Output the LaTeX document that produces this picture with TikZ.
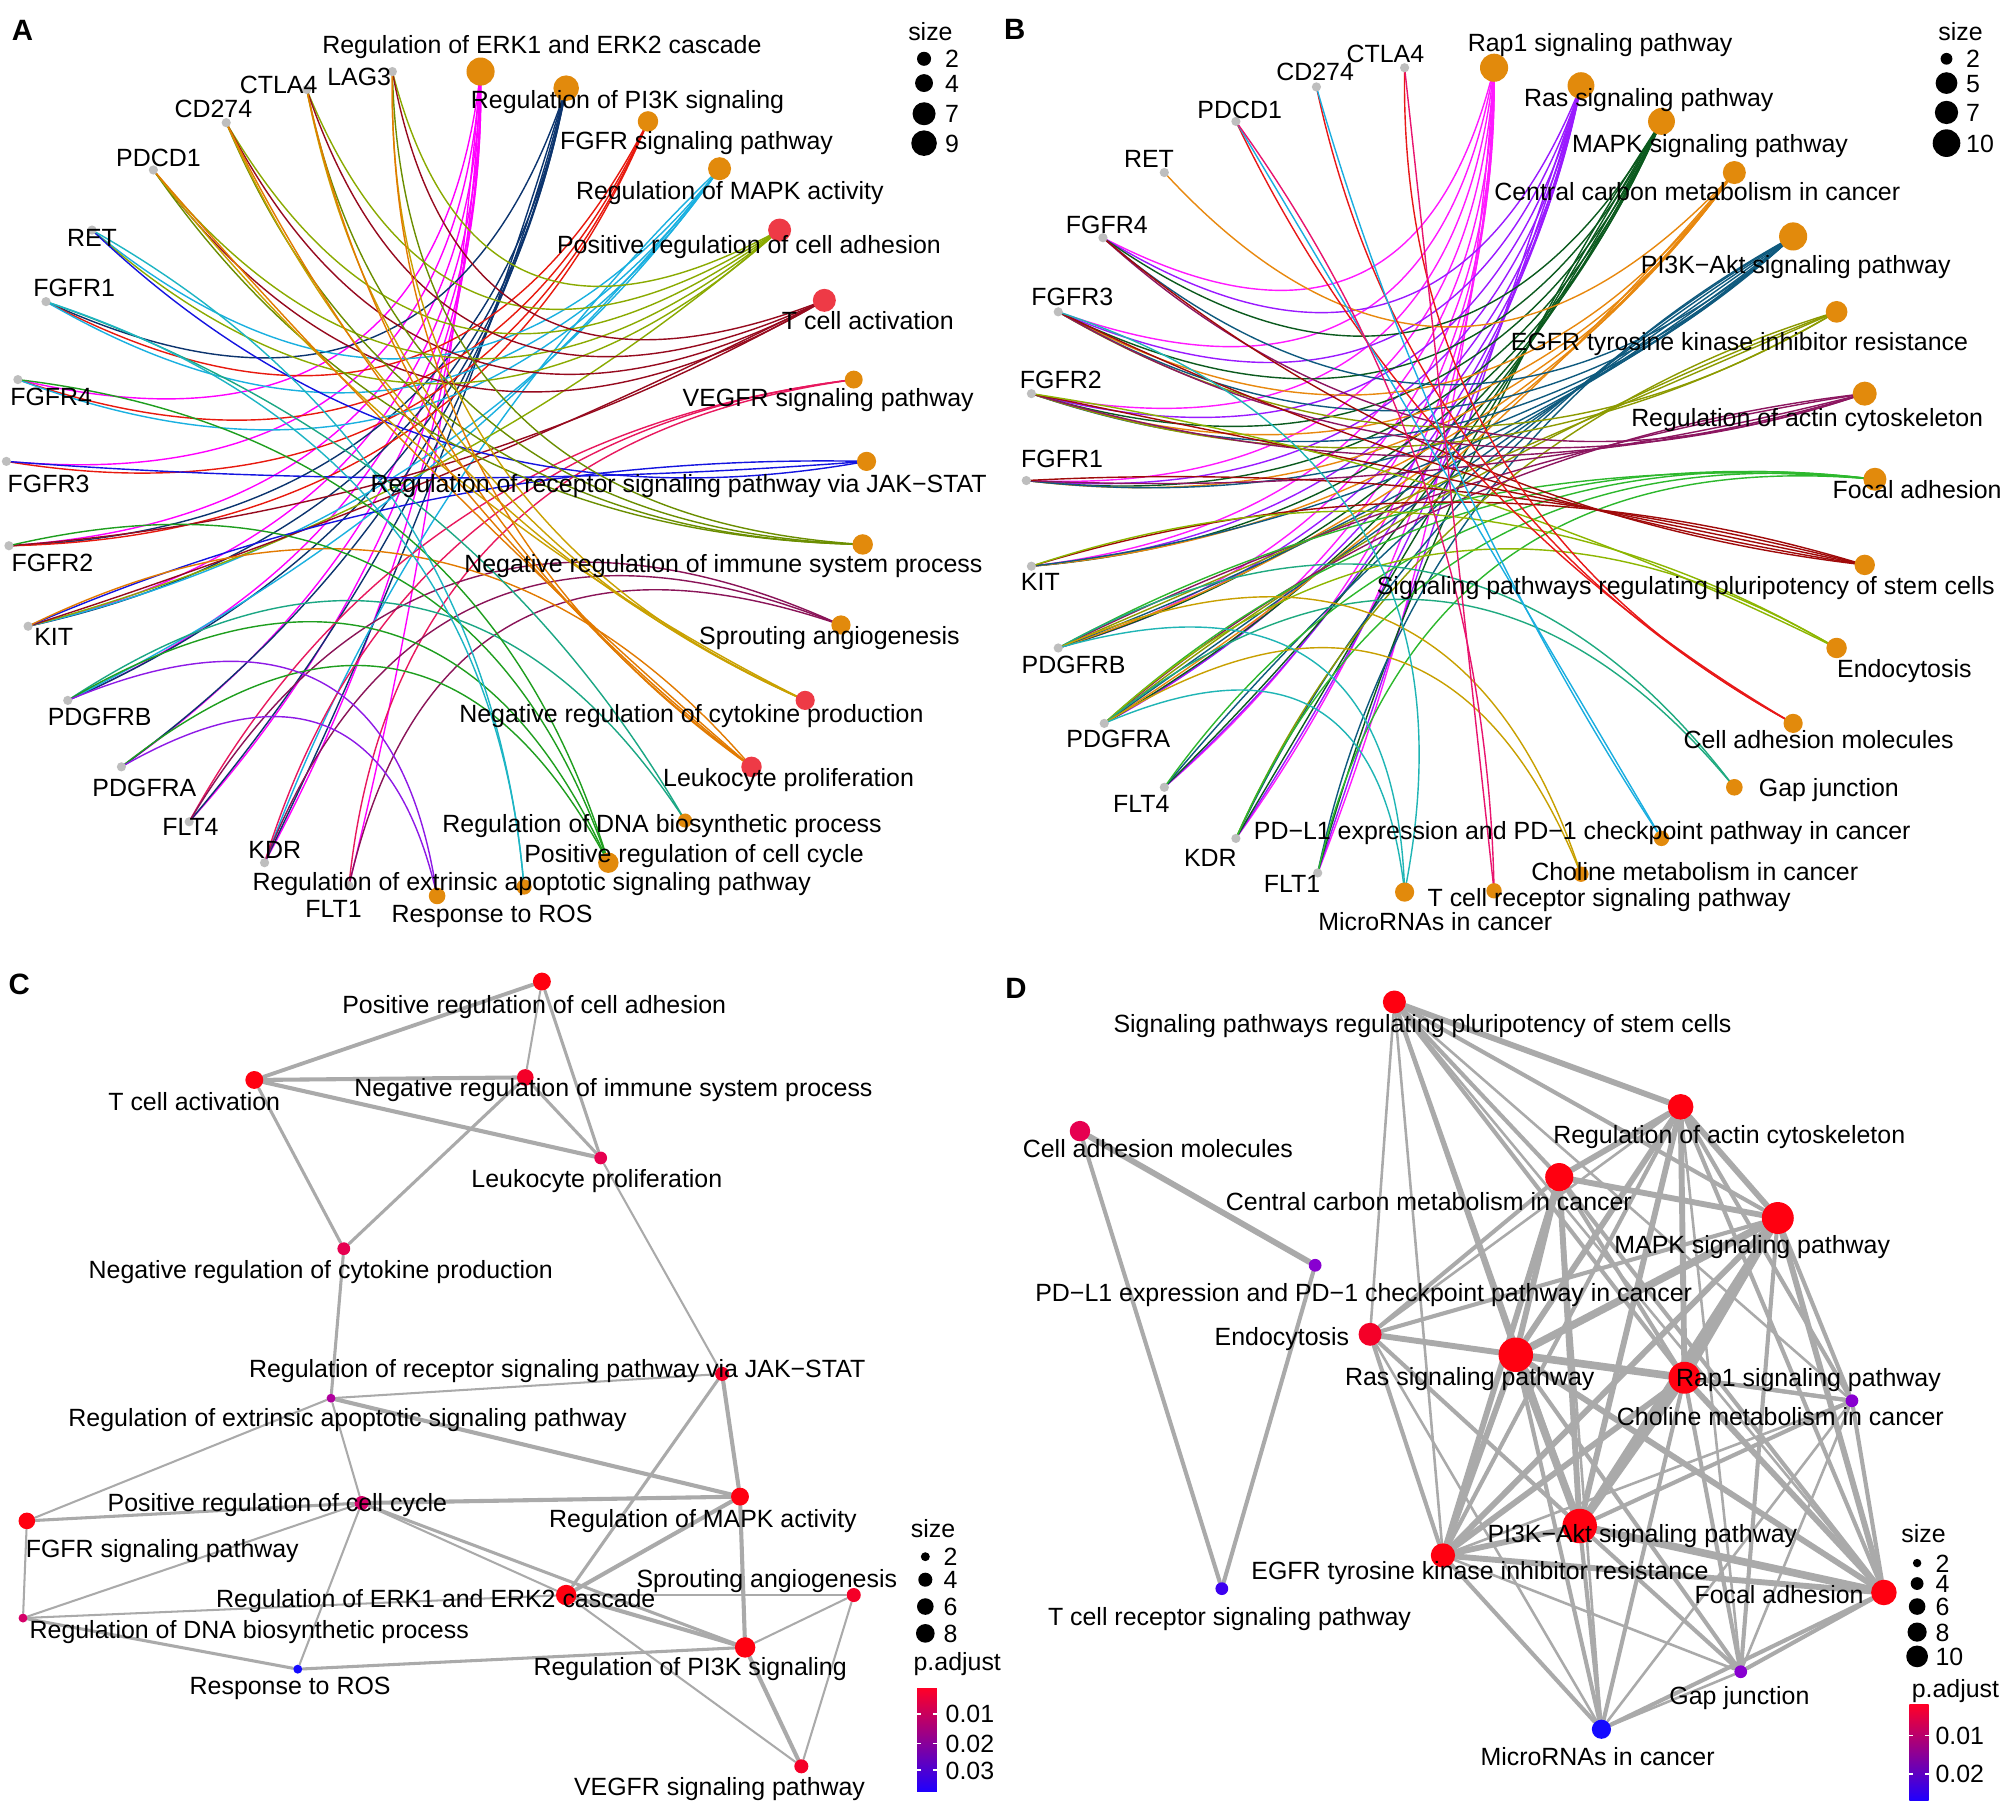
\documentclass[tikz,border=0pt]{standalone}
\usepackage{fontspec}
\setmainfont{Liberation Sans}
\usetikzlibrary{backgrounds}
\pgfdeclarelayer{bottom}
\pgfsetlayers{bottom,background,main}

\definecolor{gnodec}{RGB}{190,190,190}
\definecolor{onodec}{RGB}{226,138,12}
\definecolor{rnodec}{RGB}{238,58,70}
\definecolor{gedgec}{RGB}{170,170,170}
% panel A edge colours
\definecolor{aERKc}{RGB}{255,0,255}
\definecolor{aPIc}{RGB}{12,52,110}
\definecolor{aFGc}{RGB}{232,25,14}
\definecolor{aMAc}{RGB}{26,176,224}
\definecolor{aADc}{RGB}{138,170,0}
\definecolor{aTCc}{RGB}{150,10,30}
\definecolor{aVEc}{RGB}{232,24,94}
\definecolor{aJAc}{RGB}{20,20,224}
\definecolor{aNIc}{RGB}{107,142,0}
\definecolor{aSPc}{RGB}{138,20,88}
\definecolor{aCYc}{RGB}{201,161,0}
\definecolor{aLEc}{RGB}{226,122,0}
\definecolor{aDNc}{RGB}{27,167,132}
\definecolor{aCCc}{RGB}{30,158,30}
\definecolor{aAPc}{RGB}{29,181,196}
\definecolor{aROc}{RGB}{142,26,230}
% panel B edge colours
\definecolor{bRapc}{RGB}{255,26,255}
\definecolor{bRasc}{RGB}{154,26,255}
\definecolor{bMAc}{RGB}{11,90,30}
\definecolor{bCCc}{RGB}{232,136,14}
\definecolor{bPIc}{RGB}{15,90,126}
\definecolor{bEGc}{RGB}{140,154,0}
\definecolor{bACc}{RGB}{140,22,96}
\definecolor{bFOc}{RGB}{45,184,45}
\definecolor{bPLc}{RGB}{160,10,10}
\definecolor{bENc}{RGB}{141,182,0}
\definecolor{bCAc}{RGB}{232,24,24}
\definecolor{bGAc}{RGB}{31,170,128}
\definecolor{bPDc}{RGB}{26,174,224}
\definecolor{bCHc}{RGB}{200,160,0}
\definecolor{bTCc}{RGB}{232,20,110}
\definecolor{bMIc}{RGB}{31,181,181}
% p.adjust colours
\definecolor{pr0}{RGB}{255,0,16}
\definecolor{pr1}{RGB}{244,0,40}
\definecolor{pr2}{RGB}{230,0,80}
\definecolor{pr3}{RGB}{212,0,104}
\definecolor{pr4}{RGB}{176,0,158}
\definecolor{pr5}{RGB}{136,0,208}
\definecolor{pr6}{RGB}{60,0,240}
\definecolor{pr7}{RGB}{20,10,255}
\definecolor{bartop}{RGB}{255,0,40}
\definecolor{barmid}{RGB}{190,0,150}
\definecolor{barbot}{RGB}{30,0,255}

\makeatletter
\newcommand\cedge[4]{%
  \pgfpointanchor{#3}{center}\edef\cea{\strip@pt\pgf@x}\edef\ceb{\strip@pt\pgf@y}%
  \pgfpointanchor{#4}{center}\edef\cec{\strip@pt\pgf@x}\edef\ced{\strip@pt\pgf@y}%
  \pgfpointanchor{#2}{center}\edef\cee{\strip@pt\pgf@x}\edef\cef{\strip@pt\pgf@y}%
  \pgfmathsetmacro\ceg{veclen(\cec-\cea,\ced-\ceb)/221.5}%
  \pgfmathsetmacro\ceqx{(\cea+\cec)/2+\ceg*(\cee-(\cea+\cec)/2)}%
  \pgfmathsetmacro\ceqy{(\ceb+\ced)/2+\ceg*(\cef-(\ceb+\ced)/2)}%
  \pgfmathsetmacro\ceux{(\cea+2*\ceqx)/3}%
  \pgfmathsetmacro\ceuy{(\ceb+2*\ceqy)/3}%
  \pgfmathsetmacro\cevx{(\cec+2*\ceqx)/3}%
  \pgfmathsetmacro\cevy{(\ced+2*\ceqy)/3}%
  \draw[cnedge,#1] (#3.center) .. controls (\ceux pt,\ceuy pt) and (\cevx pt,\cevy pt) .. (#4.center);%
}
\makeatother

\tikzset{
  lab/.style={font=\fontsize{9.75}{11}\selectfont, anchor=base, yshift=-3.5pt, inner sep=0pt},
  labw/.style={lab, anchor=base west},
  plab/.style={font=\fontsize{11.5}{13}\selectfont\bfseries, anchor=base, yshift=-4.1pt, inner sep=0pt},
  gnode/.style={circle, fill=gnodec, inner sep=0pt, minimum size=3.6pt},
  onode/.style={circle, fill=onodec, inner sep=0pt},
  rnode/.style={circle, fill=rnodec, inner sep=0pt},
  enode/.style={circle, inner sep=0pt},
  cnedge/.style={line width=0.55pt},
  ge/.style={draw=gedgec, line cap=round},
}

\begin{document}
\begin{tikzpicture}[x=0.5pt,y=-0.5pt]
\useasboundingbox (0,0) rectangle (1568,1413);
\begin{pgfonlayer}{bottom}
\fill[white] (0,0) rectangle (1568,1413);
\end{pgfonlayer}

%================ PANEL A =================
\node[plab] (pA) at (17.5,23.5) {A};
\coordinate (ctrA) at (342,378);
\node[gnode] (aLAG3) at (307,56) {};
\node[gnode] (aCTLA4) at (240,70) {};
\node[gnode] (aCD274) at (177,96) {};
\node[gnode] (aPDCD1) at (120,133) {};
\node[gnode] (aRET) at (72,180) {};
\node[gnode] (aFGFR1) at (36,236) {};
\node[gnode] (aFGFR4) at (14,297) {};
\node[gnode] (aFGFR3) at (5,361) {};
\node[gnode] (aFGFR2) at (7,427) {};
\node[gnode] (aKIT) at (22,490) {};
\node[gnode] (aPDGFRB) at (53,548) {};
\node[gnode] (aPDGFRA) at (95,600) {};
\node[gnode] (aFLT4) at (148,643) {};
\node[gnode] (aKDR) at (207,675) {};
\node[gnode] (aFLT1) at (273,693) {};

\node[onode, minimum size=11pt] (aERK) at (376,56) {};
\node[onode, minimum size=10pt] (aPI) at (443,69) {};
\node[onode, minimum size=8pt] (aFG) at (507,95) {};
\node[onode, minimum size=9pt] (aMA) at (563,132) {};
\node[rnode, minimum size=9pt] (aAD) at (610,180) {};
\node[rnode, minimum size=9pt] (aTC) at (645,235) {};
\node[onode, minimum size=7pt] (aVE) at (668,297) {};
\node[onode, minimum size=7.5pt] (aJA) at (678,361) {};
\node[onode, minimum size=8pt] (aNI) at (675,426) {};
\node[onode, minimum size=7.5pt] (aSP) at (658,489) {};
\node[rnode, minimum size=7.5pt] (aCY) at (630,548) {};
\node[rnode, minimum size=8pt] (aLE) at (588,600) {};
\node[onode, minimum size=5.5pt] (aDN) at (536,642) {};
\node[onode, minimum size=8pt] (aCC) at (476,675) {};
\node[onode, minimum size=6pt] (aAP) at (410,694) {};
\node[onode, minimum size=6.5pt] (aRO) at (342,701) {};

\begin{pgfonlayer}{background}
\foreach \g in {FGFR4,FGFR3,FGFR2,KIT,PDGFRB,PDGFRA,FLT4,KDR,FLT1} {\cedge{aERKc}{ctrA}{a\g}{aERK}}
\foreach \g in {FGFR1,FGFR2,KIT,PDGFRA,PDGFRB,FLT4,KDR} {\cedge{aPIc}{ctrA}{a\g}{aPI}}
\foreach \g in {FGFR1,FGFR2,FGFR3,FGFR4} {\cedge{aFGc}{ctrA}{a\g}{aFG}}
\foreach \g in {RET,FGFR1,FGFR4,KIT,PDGFRB,KDR} {\cedge{aMAc}{ctrA}{a\g}{aMA}}
\foreach \g in {PDCD1,CD274,CTLA4,LAG3,RET,KIT} {\cedge{aADc}{ctrA}{a\g}{aAD}}
\foreach \g in {PDCD1,CD274,CTLA4,LAG3,KIT,FGFR2} {\cedge{aTCc}{ctrA}{a\g}{aTC}}
\foreach \g in {FLT1,KDR,FLT4} {\cedge{aVEc}{ctrA}{a\g}{aVE}}
\foreach \g in {RET,FGFR3,KIT} {\cedge{aJAc}{ctrA}{a\g}{aJA}}
\foreach \g in {PDCD1,CD274,CTLA4,LAG3} {\cedge{aNIc}{ctrA}{a\g}{aNI}}
\foreach \g in {FLT4,KDR,FLT1} {\cedge{aSPc}{ctrA}{a\g}{aSP}}
\foreach \g in {PDCD1,CD274,CTLA4,LAG3} {\cedge{aCYc}{ctrA}{a\g}{aCY}}
\foreach \g in {PDCD1,CD274,CTLA4,LAG3,KIT} {\cedge{aLEc}{ctrA}{a\g}{aLE}}
\foreach \g in {FGFR1,PDGFRB} {\cedge{aDNc}{ctrA}{a\g}{aDN}}
\foreach \g in {FGFR4,FGFR2,PDGFRB,PDGFRA} {\cedge{aCCc}{ctrA}{a\g}{aCC}}
\foreach \g in {RET,FGFR1} {\cedge{aAPc}{ctrA}{a\g}{aAP}}
\foreach \g in {PDGFRB,PDGFRA} {\cedge{aROc}{ctrA}{a\g}{aRO}}
\end{pgfonlayer}

\node[lab] (laLAG3) at (281,60) {LAG3};
\node[lab] (laCTLA4) at (218,66) {CTLA4};
\node[lab] (laCD274) at (167,85) {CD274};
\node[lab] (laPDCD1) at (124,123) {PDCD1};
\node[lab] (laRET) at (72,186) {RET};
\node[lab] (laFGFR1) at (58,225) {FGFR1};
\node[lab] (laFGFR4) at (40,310) {FGFR4};
\node[lab] (laFGFR3) at (38,378) {FGFR3};
\node[lab] (laFGFR2) at (41,440) {FGFR2};
\node[lab] (laKIT) at (42,498) {KIT};
\node[lab] (laPDGFRB) at (78,561) {PDGFRB};
\node[lab] (laPDGFRA) at (113,616) {PDGFRA};
\node[lab] (laFLT4) at (149,647) {FLT4};
\node[lab] (laKDR) at (215,665) {KDR};
\node[lab] (laFLT1) at (261,711) {FLT1};

\node[lab] (laERK) at (424,35) {Regulation of ERK1 and ERK2 cascade};
\node[lab] (laPI) at (491,78) {Regulation of PI3K signaling};
\node[lab] (laFG) at (545,110) {FGFR signaling pathway};
\node[lab] (laMA) at (571,149) {Regulation of MAPK activity};
\node[lab] (laAD) at (586,191) {Positive regulation of cell adhesion};
\node[lab] (laTC) at (679,251) {T cell activation};
\node[lab] (laVE) at (648,311) {VEGFR signaling pathway};
\node[lab] (laJA) at (531,378) {Regulation of receptor signaling pathway via JAK−STAT};
\node[lab] (laNI) at (566,441) {Negative regulation of immune system process};
\node[lab] (laSP) at (649,497) {Sprouting angiogenesis};
\node[lab] (laCY) at (541,558) {Negative regulation of cytokine production};
\node[lab] (laLE) at (617,608) {Leukocyte proliferation};
\node[lab] (laDN) at (518,644) {Regulation of DNA biosynthetic process};
\node[lab] (laCC) at (543,668) {Positive regulation of cell cycle};
\node[lab] (laAP) at (416,690) {Regulation of extrinsic apoptotic signaling pathway};
\node[lab] (laRO) at (385,715) {Response to ROS};

% legend A
\node[lab] (lgA) at (728,25) {size};
\fill (723,46) circle[radius=5.5];
\fill (723,65) circle[radius=7];
\fill (723,89) circle[radius=9];
\fill (723,112) circle[radius=10];
\node[labw] (lgA2) at (739,46) {2};
\node[labw] (lgA4) at (739,65) {4};
\node[labw] (lgA7) at (739,89) {7};
\node[labw] (lgA9) at (739,112) {9};

%================ PANEL B =================
\node[plab] (pB) at (794,23) {B};
\coordinate (ctrB) at (1134,375);
\node[gnode] (bCTLA4) at (1099,53) {};
\node[gnode] (bCD274) at (1030,68) {};
\node[gnode] (bPDCD1) at (967,95) {};
\node[gnode] (bRET) at (911,135) {};
\node[gnode] (bFGFR4) at (863,186) {};
\node[gnode] (bFGFR3) at (828,244) {};
\node[gnode] (bFGFR2) at (807,308) {};
\node[gnode] (bFGFR1) at (803,376) {};
\node[gnode] (bKIT) at (807,443) {};
\node[gnode] (bPDGFRB) at (828,507) {};
\node[gnode] (bPDGFRA) at (864,566) {};
\node[gnode] (bFLT4) at (911,616) {};
\node[gnode] (bKDR) at (967,656) {};
\node[gnode] (bFLT1) at (1031,683) {};

\node[onode, minimum size=11pt] (bRap) at (1169,53) {};
\node[onode, minimum size=10.5pt] (bRas) at (1237,67) {};
\node[onode, minimum size=10.5pt] (bMA) at (1300,95) {};
\node[onode, minimum size=9pt] (bCC) at (1357,135) {};
\node[onode, minimum size=11pt] (bPI) at (1403,185) {};
\node[onode, minimum size=8.5pt] (bEG) at (1437,244) {};
\node[onode, minimum size=9.4pt] (bAC) at (1459,308) {};
\node[onode, minimum size=9pt] (bFO) at (1467,375) {};
\node[onode, minimum size=8pt] (bPL) at (1459,442) {};
\node[onode, minimum size=8pt] (bEN) at (1437,507) {};
\node[onode, minimum size=7.5pt] (bCA) at (1403,566) {};
\node[onode, minimum size=6.5pt] (bGA) at (1357,616) {};
\node[onode, minimum size=6pt] (bPD) at (1300,656) {};
\node[onode, minimum size=6pt] (bCH) at (1237,684) {};
\node[onode, minimum size=6pt] (bTC) at (1169,697) {};
\node[onode, minimum size=7.5pt] (bMI) at (1099,698) {};

\begin{pgfonlayer}{background}
\foreach \g in {FGFR4,FGFR3,FGFR2,FGFR1,KIT,PDGFRB,PDGFRA,FLT4,KDR,FLT1} {\cedge{bRapc}{ctrB}{b\g}{bRap}}
\foreach \g in {FGFR4,FGFR3,FGFR2,FGFR1,KIT,PDGFRB,PDGFRA,FLT4,KDR,FLT1} {\cedge{bRasc}{ctrB}{b\g}{bRas}}
\foreach \g in {FGFR4,FGFR3,FGFR2,FGFR1,KIT,PDGFRB,PDGFRA,FLT4,KDR,FLT1} {\cedge{bMAc}{ctrB}{b\g}{bMA}}
\foreach \g in {RET,FGFR3,FGFR2,FGFR1,KIT,PDGFRB,PDGFRA} {\cedge{bCCc}{ctrB}{b\g}{bCC}}
\foreach \g in {FGFR4,FGFR3,FGFR2,FGFR1,KIT,PDGFRB,PDGFRA,FLT4,KDR,FLT1} {\cedge{bPIc}{ctrB}{b\g}{bPI}}
\foreach \g in {FGFR3,FGFR2,KDR,PDGFRA,PDGFRB} {\cedge{bEGc}{ctrB}{b\g}{bEG}}
\foreach \g in {FGFR4,FGFR3,FGFR2,FGFR1,PDGFRA,PDGFRB} {\cedge{bACc}{ctrB}{b\g}{bAC}}
\foreach \g in {PDGFRA,PDGFRB,KDR,FLT1,FLT4} {\cedge{bFOc}{ctrB}{b\g}{bFO}}
\foreach \g in {FGFR4,FGFR3,FGFR2,FGFR1,KIT} {\cedge{bPLc}{ctrB}{b\g}{bPL}}
\foreach \g in {FGFR2,KIT,PDGFRA} {\cedge{bENc}{ctrB}{b\g}{bEN}}
\foreach \g in {PDCD1,CD274,CTLA4} {\cedge{bCAc}{ctrB}{b\g}{bCA}}
\foreach \g in {PDGFRA,PDGFRB} {\cedge{bGAc}{ctrB}{b\g}{bGA}}
\foreach \g in {CD274,PDCD1} {\cedge{bPDc}{ctrB}{b\g}{bPD}}
\foreach \g in {PDGFRA,PDGFRB} {\cedge{bCHc}{ctrB}{b\g}{bCH}}
\foreach \g in {PDCD1,CTLA4} {\cedge{bTCc}{ctrB}{b\g}{bTC}}
\foreach \g in {FGFR3,PDGFRA,PDGFRB} {\cedge{bMIc}{ctrB}{b\g}{bMI}}
\end{pgfonlayer}

\node[lab] (lbCTLA4) at (1084,42) {CTLA4};
\node[lab] (lbCD274) at (1029,56) {CD274};
\node[lab] (lbPDCD1) at (970,86) {PDCD1};
\node[lab] (lbRET) at (899,124) {RET};
\node[lab] (lbFGFR4) at (866,176) {FGFR4};
\node[lab] (lbFGFR3) at (839,232) {FGFR3};
\node[lab] (lbFGFR2) at (830,297) {FGFR2};
\node[lab] (lbFGFR1) at (831,359) {FGFR1};
\node[lab] (lbKIT) at (814,455) {KIT};
\node[lab] (lbPDGFRB) at (840,520) {PDGFRB};
\node[lab] (lbPDGFRA) at (875,578) {PDGFRA};
\node[lab] (lbFLT4) at (893,629) {FLT4};
\node[lab] (lbKDR) at (947,671) {KDR};
\node[lab] (lbFLT1) at (1011,691) {FLT1};

\node[lab] (lbRap) at (1252,33) {Rap1 signaling pathway};
\node[lab] (lbRas) at (1290,76) {Ras signaling pathway};
\node[lab] (lbMA) at (1338,112) {MAPK signaling pathway};
\node[lab] (lbCC) at (1328,150) {Central carbon metabolism in cancer};
\node[lab] (lbPI) at (1405,207) {PI3K−Akt signaling pathway};
\node[lab] (lbEG) at (1361,267) {EGFR tyrosine kinase inhibitor resistance};
\node[lab] (lbAC) at (1414,327) {Regulation of actin cytoskeleton};
\node[lab] (lbFO) at (1500,383) {Focal adhesion};
\node[lab] (lbPL) at (1319,458) {Signaling pathways regulating pluripotency of stem cells};
\node[lab] (lbEN) at (1490,523) {Endocytosis};
\node[lab] (lbCA) at (1423,579) {Cell adhesion molecules};
\node[lab] (lbGA) at (1431,616) {Gap junction};
\node[lab] (lbPD) at (1238,650) {PD−L1 expression and PD−1 checkpoint pathway in cancer};
\node[lab] (lbCH) at (1326,682) {Choline metabolism in cancer};
\node[lab] (lbTC) at (1259,702) {T cell receptor signaling pathway};
\node[lab] (lbMI) at (1123,721) {MicroRNAs in cancer};

% legend B
\node[lab] (lgB) at (1534,25) {size};
\fill (1523,46) circle[radius=4.6];
\fill (1523,65) circle[radius=8.5];
\fill (1523,88) circle[radius=9.1];
\fill (1523,112) circle[radius=10.8];
\node[labw] (lgB2) at (1538,46) {2};
\node[labw] (lgB5) at (1538,65) {5};
\node[labw] (lgB7) at (1538,88) {7};
\node[labw] (lgB10) at (1538,112) {10};

%================ PANEL C =================
\node[plab] (pC) at (15,770) {C};
\node[enode, fill=pr0, minimum size=7pt] (cPA) at (424,768) {};
\node[enode, fill=pr0, minimum size=7pt] (cTA) at (199,845) {};
\node[enode, fill=pr1, minimum size=6.5pt] (cNI) at (411,843) {};
\node[enode, fill=pr2, minimum size=5pt] (cLE) at (470,906) {};
\node[enode, fill=pr2, minimum size=5pt] (cNC) at (269,977) {};
\node[enode, fill=pr1, minimum size=5.5pt] (cJA) at (565,1075) {};
\node[enode, fill=pr4, minimum size=3.5pt] (cEA) at (259,1094) {};
\node[enode, fill=pr3, minimum size=5.5pt] (cCC) at (283,1176) {};
\node[enode, fill=pr0, minimum size=7pt] (cMA) at (579,1171) {};
\node[enode, fill=pr0, minimum size=6.5pt] (cFG) at (21,1190) {};
\node[enode, fill=pr1, minimum size=5.5pt] (cSP) at (668,1248) {};
\node[enode, fill=pr0, minimum size=8pt] (cER) at (443,1248) {};
\node[enode, fill=pr3, minimum size=3.5pt] (cDN) at (18,1266) {};
\node[enode, fill=pr7, minimum size=3.5pt] (cRO) at (233,1306) {};
\node[enode, fill=pr0, minimum size=8pt] (cPI) at (583,1289) {};
\node[enode, fill=pr1, minimum size=5.5pt] (cVE) at (627,1382) {};

\begin{pgfonlayer}{background}
\foreach \u/\v/\w in {cPA/cTA/1.5, cPA/cNI/0.8, cPA/cLE/1.2, cTA/cNI/1.6, cTA/cLE/1.6, cTA/cNC/1.2,
  cNI/cNC/1.2, cNI/cLE/1.2, cLE/cJA/0.8, cNC/cEA/1.2, cEA/cJA/0.8, cEA/cMA/1.6, cEA/cFG/0.8,
  cEA/cCC/0.8, cJA/cMA/1.6, cJA/cER/1.2, cCC/cFG/1.2, cCC/cMA/1.6, cCC/cER/0.8, cCC/cPI/1.2,
  cCC/cDN/0.8, cCC/cRO/0.8, cFG/cDN/0.8, cDN/cRO/1.2, cDN/cER/0.8, cRO/cPI/1.2,
  cMA/cER/1.6, cMA/cPI/1.6, cER/cPI/1.6, cER/cSP/0.8, cER/cVE/0.8, cPI/cSP/0.8, cPI/cVE/1.6, cSP/cVE/0.8}
  {\draw[ge, line width=\w pt] (\u) -- (\v);}
\end{pgfonlayer}

\node[lab] (lcPA) at (418,786) {Positive regulation of cell adhesion};
\node[lab] (lcTA) at (152,862) {T cell activation};
\node[lab] (lcNI) at (480,851) {Negative regulation of immune system process};
\node[lab] (lcLE) at (467,922) {Leukocyte proliferation};
\node[lab] (lcNC) at (251,993) {Negative regulation of cytokine production};
\node[lab] (lcJA) at (436,1071) {Regulation of receptor signaling pathway via JAK−STAT};
\node[lab] (lcEA) at (272,1109) {Regulation of extrinsic apoptotic signaling pathway};
\node[lab] (lcCC) at (217,1176) {Positive regulation of cell cycle};
\node[lab] (lcMA) at (550,1188) {Regulation of MAPK activity};
\node[lab] (lcFG) at (127,1212) {FGFR signaling pathway};
\node[lab] (lcSP) at (600,1235) {Sprouting angiogenesis};
\node[lab] (lcER) at (341,1251) {Regulation of ERK1 and ERK2 cascade};
\node[lab] (lcDN) at (195,1275) {Regulation of DNA biosynthetic process};
\node[lab] (lcRO) at (227,1319) {Response to ROS};
\node[lab] (lcPI) at (540,1304) {Regulation of PI3K signaling};
\node[lab] (lcVE) at (563,1398) {VEGFR signaling pathway};

% legend C
\node[lab] (lgC) at (730,1196) {size};
\fill (724,1218) circle[radius=3.5];
\fill (724,1236) circle[radius=5.5];
\fill (724,1257) circle[radius=6.5];
\fill (724,1278) circle[radius=7.3];
\node[labw] (lgC2) at (738,1218) {2};
\node[labw] (lgC4) at (738,1236) {4};
\node[labw] (lgC6) at (738,1257) {6};
\node[labw] (lgC8) at (738,1278) {8};
\node[lab] (lgCp) at (749,1300) {p.adjust};
\shade[top color=bartop, middle color=barmid, bottom color=barbot] (717.5,1321) rectangle (733,1402);
\foreach \t in {1341,1364,1385} {\draw[white, line width=0.5pt] (717.5,\t) -- (720.5,\t) (730,\t) -- (733,\t);}
\node[labw] (lgC01) at (739.5,1341) {0.01};
\node[labw] (lgC02) at (739.5,1364) {0.02};
\node[labw] (lgC03) at (739.5,1385) {0.03};

%================ PANEL D =================
\node[plab] (pD) at (795,773) {D};
\node[enode, fill=pr0, minimum size=9pt] (dPL) at (1091,784) {};
\node[enode, fill=pr0, minimum size=10pt] (dAC) at (1315,866) {};
\node[enode, fill=pr2, minimum size=8pt] (dCA) at (845,885) {};
\node[enode, fill=pr0, minimum size=11pt] (dCC) at (1220,921) {};
\node[enode, fill=pr0, minimum size=12.5pt] (dMA) at (1391,953) {};
\node[enode, fill=pr5, minimum size=5pt] (dPD) at (1029,990) {};
\node[enode, fill=pr1, minimum size=9pt] (dEN) at (1072,1044) {};
\node[enode, fill=pr0, minimum size=13.5pt] (dRA) at (1186,1060) {};
\node[enode, fill=pr0, minimum size=12.5pt] (dR1) at (1318,1078) {};
\node[enode, fill=pr5, minimum size=5pt] (dCH) at (1449,1096) {};
\node[enode, fill=pr0, minimum size=13.5pt] (dPI) at (1236,1194) {};
\node[enode, fill=pr0, minimum size=9.5pt] (dEG) at (1129,1217) {};
\node[enode, fill=pr6, minimum size=5pt] (dTC) at (956,1243) {};
\node[enode, fill=pr0, minimum size=10pt] (dFO) at (1474,1246) {};
\node[enode, fill=pr5, minimum size=5pt] (dGA) at (1362,1308) {};
\node[enode, fill=pr7, minimum size=7.5pt] (dMI) at (1253,1353) {};

\begin{pgfonlayer}{background}
\foreach \u/\v/\w in {dCA/dPD/2.3, dCA/dTC/1.6, dPD/dTC/1.6,
  dPL/dAC/2.3, dPL/dCC/1.6, dPL/dMA/1.6, dPL/dRA/1.6, dPL/dR1/1.6, dPL/dPI/1.6, dPL/dEG/1.0,
  dPL/dEN/1.0, dPL/dFO/1.0, dPL/dCH/1.0,
  dAC/dCC/2.3, dAC/dMA/2.3, dAC/dRA/2.3, dAC/dR1/2.3, dAC/dPI/2.3, dAC/dEG/1.6, dAC/dFO/1.6,
  dAC/dCH/1.6, dAC/dGA/1.0, dAC/dEN/1.0,
  dCC/dMA/2.3, dCC/dRA/2.3, dCC/dR1/1.6, dCC/dPI/2.3, dCC/dEG/2.3, dCC/dEN/1.6, dCC/dFO/1.6, dCC/dMI/1.0,
  dMA/dRA/3.0, dMA/dR1/3.0, dMA/dPI/3.0, dMA/dEG/2.3, dMA/dFO/2.3, dMA/dCH/1.6, dMA/dGA/1.6, dMA/dEN/1.6,
  dEN/dRA/2.3, dEN/dR1/1.6, dEN/dPI/1.6, dEN/dEG/1.6, dEN/dMI/1.0,
  dRA/dR1/3.0, dRA/dPI/3.0, dRA/dEG/2.3, dRA/dFO/2.3, dRA/dCH/1.6, dRA/dGA/1.6, dRA/dMI/1.6,
  dR1/dPI/3.0, dR1/dEG/2.3, dR1/dFO/2.3, dR1/dCH/1.6, dR1/dGA/1.6, dR1/dMI/1.6,
  dCH/dPI/1.6, dCH/dFO/1.6, dCH/dGA/1.0, dCH/dEG/1.0, dCH/dMI/1.0,
  dPI/dEG/2.3, dPI/dFO/3.0, dPI/dGA/1.6, dPI/dMI/1.6,
  dEG/dFO/2.3, dEG/dMI/1.6, dEG/dGA/1.0, dFO/dGA/1.6, dFO/dMI/1.6, dGA/dMI/1.0}
  {\draw[ge, line width=\w pt] (\u) -- (\v);}
\end{pgfonlayer}

\node[lab] (ldPL) at (1113,801) {Signaling pathways regulating pluripotency of stem cells};
\node[lab] (ldAC) at (1353,888) {Regulation of actin cytoskeleton};
\node[lab] (ldCA) at (906,899) {Cell adhesion molecules};
\node[lab] (ldCC) at (1118,940) {Central carbon metabolism in cancer};
\node[lab] (ldMA) at (1371,974) {MAPK signaling pathway};
\node[lab] (ldPD) at (1067,1011) {PD−L1 expression and PD−1 checkpoint pathway in cancer};
\node[lab] (ldEN) at (1003,1046) {Endocytosis};
\node[lab] (ldRA) at (1150,1077) {Ras signaling pathway};
\node[lab] (ldR1) at (1415,1078) {Rap1 signaling pathway};
\node[lab] (ldCH) at (1393,1108) {Choline metabolism in cancer};
\node[lab] (ldPI) at (1285,1200) {PI3K−Akt signaling pathway};
\node[lab] (ldEG) at (1158,1229) {EGFR tyrosine kinase inhibitor resistance};
\node[lab] (ldTC) at (962,1265) {T cell receptor signaling pathway};
\node[lab] (ldFO) at (1392,1248) {Focal adhesion};
\node[lab] (ldGA) at (1361,1327) {Gap junction};
\node[lab] (ldMI) at (1250,1374) {MicroRNAs in cancer};

% legend D
\node[lab] (lgD) at (1505,1200) {size};
\fill (1500,1223) circle[radius=3.3];
\fill (1500,1239) circle[radius=5];
\fill (1500,1257) circle[radius=6.5];
\fill (1500,1277) circle[radius=7.5];
\fill (1500,1296) circle[radius=8.5];
\node[labw] (lgD2) at (1514,1223) {2};
\node[labw] (lgD4) at (1514,1239) {4};
\node[labw] (lgD6) at (1514,1257) {6};
\node[labw] (lgD8) at (1514,1277) {8};
\node[labw] (lgD10) at (1514,1296) {10};
\node[lab] (lgDp) at (1530,1321) {p.adjust};
\shade[top color=bartop, middle color=barmid, bottom color=barbot] (1494,1334) rectangle (1509,1409);
\foreach \t in {1358,1388} {\draw[white, line width=0.5pt] (1494,\t) -- (1497,\t) (1506,\t) -- (1509,\t);}
\node[labw] (lgD01) at (1514,1358) {0.01};
\node[labw] (lgD02) at (1514,1388) {0.02};
\end{tikzpicture}
\end{document}
